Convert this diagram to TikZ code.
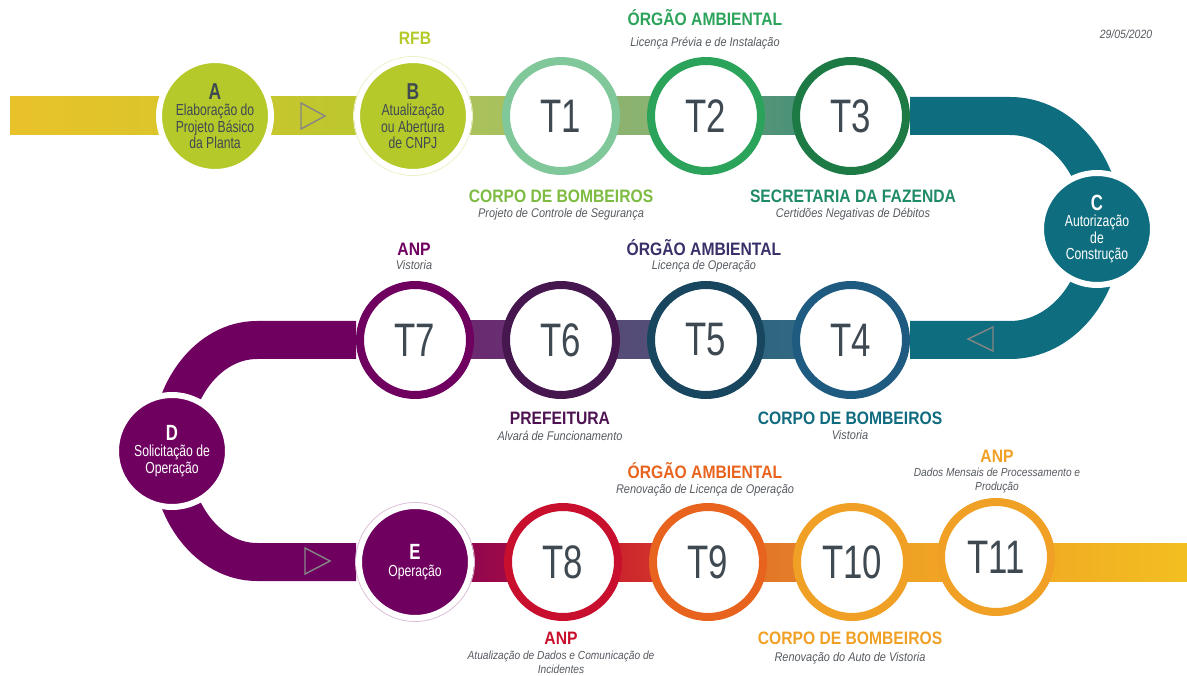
\documentclass[tikz,border=0pt]{standalone}
\usepackage{fontspec}
\setmainfont{Liberation Sans}
\newfontfamily\numfont[FakeStretch=0.74]{Liberation Sans}
\newfontfamily\stepfont[FakeStretch=0.76]{Liberation Sans}
\newfontfamily\labfont[FakeStretch=0.87]{Liberation Sans}
\usetikzlibrary{positioning,calc,backgrounds}

\definecolor{numgray}{HTML}{3F4952}
\definecolor{subgray}{HTML}{555A60}
\definecolor{trigray}{HTML}{858585}
\definecolor{lime}{HTML}{B6C92B}
\definecolor{leaf}{HTML}{7DBB42}
\definecolor{mint}{HTML}{80C79A}
\definecolor{grass}{HTML}{2CA35A}
\definecolor{forest}{HTML}{1E7A45}
\definecolor{pine}{HTML}{1F8A68}
\definecolor{petrol}{HTML}{0E6D7F}
\definecolor{steel}{HTML}{1F5B80}
\definecolor{navy}{HTML}{18465E}
\definecolor{indigo}{HTML}{3B2F6A}
\definecolor{grape}{HTML}{45174E}
\definecolor{plum}{HTML}{6F0060}
\definecolor{ruby}{HTML}{C8102E}
\definecolor{tangerine}{HTML}{E8641E}
\definecolor{amber}{HTML}{F0A024}
\definecolor{sun}{HTML}{F2BF20}

\begin{document}
\begin{tikzpicture}[x=1pt,y=1pt,
    ring/.style={circle,draw=#1,fill=white,line width=8pt,minimum size=110pt,inner sep=0pt,
      text=numgray,font=\numfont\fontsize{47}{47}\selectfont},
    stepnode/.style={circle,draw=white,fill=#1,line width=6pt,minimum size=112pt,inner sep=0pt,
      align=center,font=\stepfont\fontsize{16}{16.5}\selectfont},
    head/.style={anchor=base,inner sep=0pt,text=#1,font=\labfont\bfseries\fontsize{18}{18}\selectfont},
    sub/.style={anchor=north,inner sep=0pt,align=center,text=subgray,
      font=\labfont\itshape\fontsize{12.6}{14}\selectfont},
    smallsub/.style={sub,font=\labfont\itshape\fontsize{11.7}{14}\selectfont},
    band/.style={line width=38pt},
    tri/.style={draw=trigray,line width=1.4pt,line join=miter}]
  \useasboundingbox (0,0) rectangle (1187,-676);

  % first row
  \node[stepnode=lime,text=numgray] (a) at (215,-116)
    {{\bfseries\fontsize{23}{23}\selectfont A}\\Elaboração do\\Projeto Básico\\da Planta};
  \node[stepnode=lime,text=numgray] (b) at (413,-116)
    {{\bfseries\fontsize{23}{23}\selectfont B}\\Atualização\\ou Abertura\\de CNPJ};
  \draw[lime!25,line width=0.8pt] (b) circle (59.5);
  \node[ring=mint]   (t1) at (561,-116) {T1};
  \node[ring=grass]  (t2) at (706,-116) {T2};
  \node[ring=forest] (t3) at (851,-116) {T3};

  % turn on the right
  \node[stepnode=petrol,text=white] (c) at (1097,-229)
    {{\bfseries\fontsize{22}{22}\selectfont C}\\Autorização\\de\\Construção};

  % second row, right to left
  \node[ring=steel] (t4) at (851,-340) {T4};
  \node[ring=navy]  (t5) at (706,-340) {T5};
  \node[ring=grape] (t6) at (561,-340) {T6};
  \node[ring=plum]  (t7) at (415,-340) {T7};

  % turn on the left
  \node[stepnode=plum,text=white] (d) at (172,-451)
    {{\bfseries\fontsize{22}{22}\selectfont D}\\Solicitação de\\Operação};

  % third row
  \node[stepnode=plum,text=white] (e) at (415,-562)
    {{\bfseries\fontsize{22}{22}\selectfont E}\\Operação};
  \draw[plum!25,line width=0.8pt] (e) circle (59.5);
  \node[ring=ruby]      (t8)  at (563,-562) {T8};
  \node[ring=tangerine] (t9)  at (708,-562) {T9};
  \node[ring=amber]     (t10) at (852,-562) {T10};
  \node[ring=amber]     (t11) at (996,-557) {T11};

  \coordinate (start)  at (10,-116);
  \coordinate (rtop)   at (1010,-116);
  \coordinate (ltop)   at (257,-340);
  \coordinate (finish) at (1187,-562);

  % the track behind the stations
  \begin{scope}[on background layer]
    \shade[left color={rgb,255:red,233;green,194;blue,42},right color={rgb,255:red,215;green,198;blue,43}]
      ($(start)+(0,19)$) rectangle ($(a)+(0,-19)$);
    \shade[left color={rgb,255:red,205;green,197;blue,46},right color={rgb,255:red,182;green,200;blue,46}]
      ($(a)+(0,19)$) rectangle ($(b)+(0,-19)$);
    \shade[left color={rgb,255:red,176;green,196;blue,80},right color={rgb,255:red,163;green,191;blue,104}]
      ($(b)+(0,19)$) rectangle ($(t1)+(0,-19)$);
    \shade[left color={rgb,255:red,143;green,181;blue,111},right color={rgb,255:red,134;green,175;blue,112}]
      ($(t1)+(0,19)$) rectangle ($(t2)+(0,-19)$);
    \shade[left color={rgb,255:red,95;green,156;blue,116},right color={rgb,255:red,63;green,138;blue,124}]
      ($(t2)+(0,19)$) rectangle ($(t3)+(0,-19)$);
    \draw[band,petrol] (t3) -- (rtop) arc[start angle=90,end angle=-90,x radius=93,y radius=112] -- (t4);
    \shade[left color={rgb,255:red,46;green,95;blue,122},right color={rgb,255:red,51;green,110;blue,134}]
      ($(t5)+(0,19)$) rectangle ($(t4)+(0,-19)$);
    \shade[left color={rgb,255:red,90;green,69;blue,119},right color={rgb,255:red,79;green,84;blue,121}]
      ($(t6)+(0,19)$) rectangle ($(t5)+(0,-19)$);
    \shade[left color={rgb,255:red,107;green,38;blue,112},right color={rgb,255:red,104;green,50;blue,114}]
      ($(t7)+(0,19)$) rectangle ($(t6)+(0,-19)$);
    \draw[band,plum] (t7) -- (ltop) arc[start angle=90,end angle=270,x radius=87,y radius=111] -- (e);
    \shade[left color={rgb,255:red,127;green,0;blue,85},right color={rgb,255:red,176;green,16;blue,64}]
      ($(e)+(0,19)$) rectangle ($(t8)+(0,-19)$);
    \shade[left color={rgb,255:red,196;green,16;blue,46},right color={rgb,255:red,216;green,70;blue,42}]
      ($(t8)+(0,19)$) rectangle ($(t9)+(0,-19)$);
    \shade[left color={rgb,255:red,221;green,106;blue,42},right color={rgb,255:red,232;green,138;blue,38}]
      ($(t9)+(0,19)$) rectangle ($(t10)+(0,-19)$);
    \shade[left color={rgb,255:red,239;green,160;blue,36},right color={rgb,255:red,240;green,166;blue,36}]
      ($(t10)+(0,19)$) rectangle ($(t11|-finish)+(0,-19)$);
    \shade[left color={rgb,255:red,240;green,166;blue,36},right color=sun]
      ($(t11|-finish)+(0,19)$) rectangle ($(finish)+(0,-19)$);
  \end{scope}

  % direction marks
  \draw[tri] (301,-103) -- (325,-116) -- (301,-129) -- cycle;
  \draw[tri] (993,-327) -- (968,-339) -- (993,-351) -- cycle;
  \draw[tri] (305,-548) -- (330,-561) -- (305,-574) -- cycle;

  % agencies and what they issue
  \node[head=lime] (rfb) at (415,-45) {RFB};
  \node[head=grass] (oa1) at (705,-26) {ÓRGÃO AMBIENTAL};
  \node[sub] (oa1s) at (705,-37) {Licença Prévia e de Instalação};
  \node[head=leaf] (cb1) at (561,-202.5) {CORPO DE BOMBEIROS};
  \node[sub] (cb1s) at (561,-208.5) {Projeto de Controle de Segurança};
  \node[head=pine] (sf) at (853,-202.5) {SECRETARIA DA FAZENDA};
  \node[sub] (sfs) at (853,-208.5) {Certidões Negativas de Débitos};

  \node[head=plum] (anp1) at (414,-255.5) {ANP};
  \node[sub] (anp1s) at (414,-260.5) {Vistoria};
  \node[head=indigo] (oa2) at (704,-255.5) {ÓRGÃO AMBIENTAL};
  \node[sub] (oa2s) at (704,-260.5) {Licença de Operação};
  \node[head=grape!80!plum] (pref) at (560,-424.5) {PREFEITURA};
  \node[sub] (prefs) at (560,-431) {Alvará de Funcionamento};
  \node[head=petrol!90!steel] (cb2) at (850,-424.5) {CORPO DE BOMBEIROS};
  \node[sub] (cb2s) at (850,-430) {Vistoria};

  \node[head=tangerine] (oa3) at (705,-478.5) {ÓRGÃO AMBIENTAL};
  \node[sub] (oa3s) at (705,-484) {Renovação de Licença de Operação};
  \node[head=amber] (anp3) at (997,-462.5) {ANP};
  \node[smallsub] (anp3s) at (997,-468) {Dados Mensais de Processamento e\\Produção};
  \node[head=ruby] (anp2) at (561,-644.5) {ANP};
  \node[smallsub] (anp2s) at (561,-651) {Atualização de Dados e Comunicação de\\Incidentes};
  \node[head=amber] (cb3) at (850,-644.5) {CORPO DE BOMBEIROS};
  \node[sub] (cb3s) at (850,-652) {Renovação do Auto de Vistoria};

  \node[anchor=base,inner sep=0pt,text=subgray,font=\labfont\itshape\fontsize{12}{12}\selectfont]
    (date) at (1126,-39) {29/05/2020};
\end{tikzpicture}
\end{document}
